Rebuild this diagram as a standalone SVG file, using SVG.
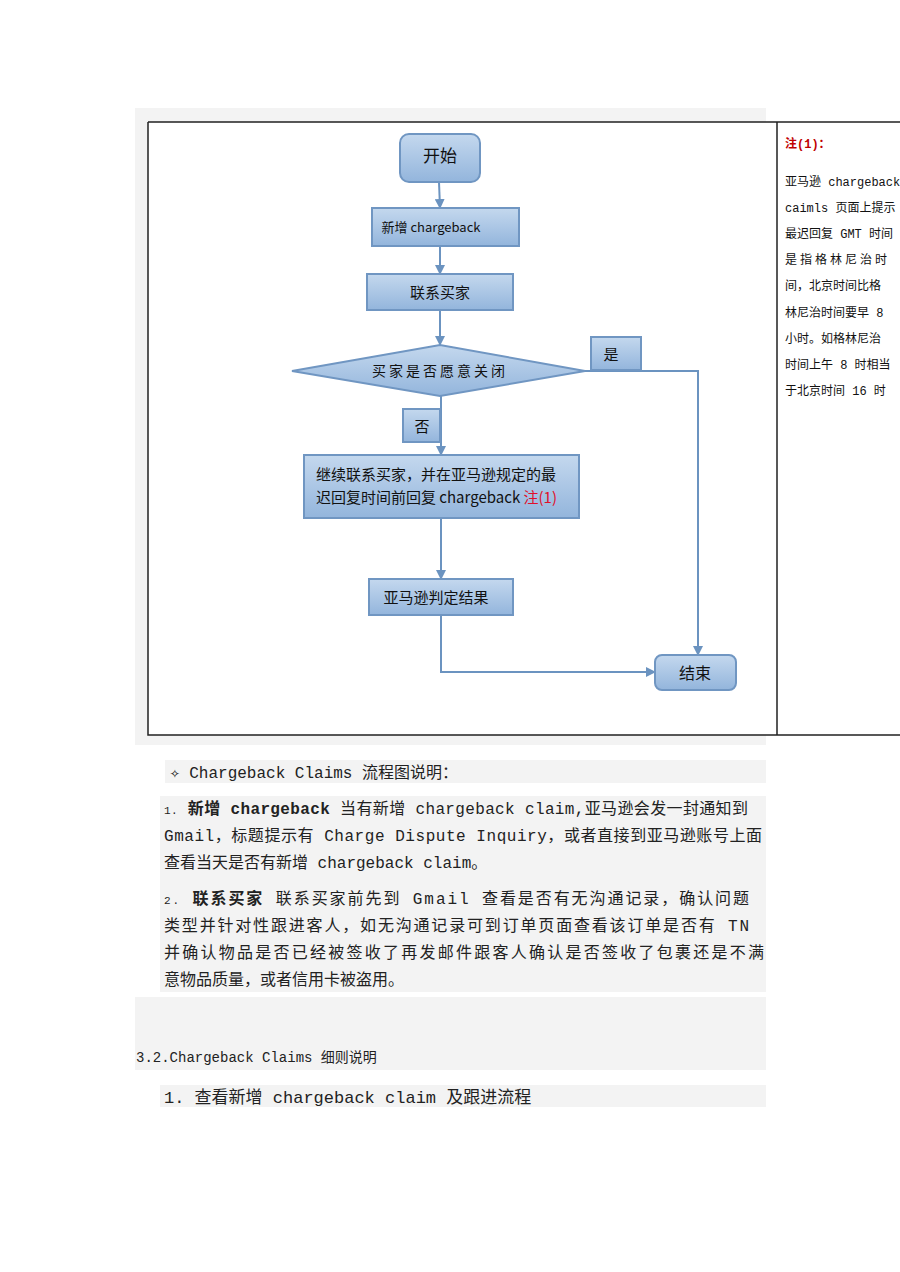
<svg xmlns="http://www.w3.org/2000/svg" width="900" height="1272" viewBox="0 0 900 1272">
<defs>
<linearGradient id="g" x1="0" y1="0" x2="0" y2="1"><stop offset="0" stop-color="#c4d8ee"/><stop offset="1" stop-color="#93b5dc"/></linearGradient>
<marker id="a" markerWidth="10" markerHeight="10" refX="9" refY="5" orient="auto" markerUnits="userSpaceOnUse"><path d="M0,0 L10,5 L0,10 z" fill="#6b93c0"/></marker>
</defs>
<style>
.n{fill:url(#g);stroke:#7096c2;stroke-width:2}
.t{font-family:"Noto Sans CJK SC","Noto Sans",sans-serif;fill:#111;text-anchor:middle}
.c{fill:none;stroke:#6b93c0;stroke-width:2;marker-end:url(#a)}
.b{font-family:"Liberation Mono","Noto Sans CJK SC",monospace;font-size:16px;fill:#222}
.r{font-family:"Liberation Mono","Noto Sans CJK SC",monospace;font-size:12px;fill:#111}
.bg{fill:#f3f3f3}
</style>
<rect width="900" height="1272" fill="#fff"/>
<rect class="bg" x="135" y="108" width="631" height="637"/>
<rect x="148" y="122" width="752" height="613" fill="#fff"/>
<path d="M148,122 H900 M148,122 V735 H900 M777,122 V735" stroke="#222" stroke-width="1.5" fill="none"/>
<g id="connectors">
<path class="c" d="M439,182 L440,208"/>
<path class="c" d="M440,246 L440,274"/>
<path class="c" d="M440,310 L440,345"/>
<path class="c" d="M441,396 L441,455"/>
<path class="c" d="M585,371 H698 V655"/>
<path class="c" d="M441,518 V579"/>
<path class="c" d="M441,615 V672 H655"/>
</g>
<g id="start"><rect class="n" x="400" y="134" width="80" height="48" rx="9"/><text class="t" x="440" y="162" font-size="17">开始</text></g>
<g id="add"><rect class="n" x="372" y="208" width="147" height="38"/><text class="t" x="431" y="232" font-size="13">新增 chargeback</text></g>
<g id="contact"><rect class="n" x="367" y="274" width="146" height="36"/><text class="t" x="440" y="298" font-size="15">联系买家</text></g>
<g id="decision"><polygon class="n" points="292,371 440,345 585,371 440,396"/><text class="t" x="440" y="376" font-size="14" letter-spacing="3">买家是否愿意关闭</text></g>
<g id="yes"><rect class="n" x="591" y="337" width="50" height="33"/><text class="t" x="611" y="360" font-size="15">是</text></g>
<g id="no"><rect class="n" x="403" y="409" width="37" height="33"/><text class="t" x="422" y="432" font-size="15">否</text></g>
<g id="cont"><rect class="n" x="304" y="455" width="275" height="63"/>
<text class="t" x="316" y="480" font-size="15" style="text-anchor:start">继续联系买家，并在亚马逊规定的最</text>
<text class="t" x="316" y="503" font-size="15" style="text-anchor:start">迟回复时间前回复 chargeback <tspan fill="#e0102a">注(1)</tspan></text></g>
<g id="judge"><rect class="n" x="369" y="579" width="144" height="36"/><text class="t" x="436" y="603" font-size="15">亚马逊判定结果</text></g>
<g id="end"><rect class="n" x="655" y="655" width="81" height="35" rx="7"/><text class="t" x="695" y="679" font-size="16">结束</text></g>
<g id="note">
<text class="r" x="785" y="148" style="fill:#c00000;font-weight:bold">注(1)：</text>
<text class="r" x="785" y="186">亚马逊 chargeback</text>
<text class="r" x="785" y="212">caimls 页面上提示</text>
<text class="r" x="785" y="238">最迟回复 GMT 时间</text>
<text class="r" x="785" y="264" letter-spacing="3">是指格林尼治时</text>
<text class="r" x="785" y="290">间，北京时间比格</text>
<text class="r" x="785" y="317">林尼治时间要早 8</text>
<text class="r" x="785" y="343">小时。如格林尼治</text>
<text class="r" x="785" y="369">时间上午 8 时相当</text>
<text class="r" x="785" y="395">于北京时间 16 时</text>
</g>
<rect class="bg" x="165" y="760" width="601" height="23"/>
<text class="b" x="170" y="778">✧  Chargeback Claims 流程图说明：</text>
<rect class="bg" x="160" y="796" width="606" height="196"/>
<text class="b" x="164" y="814" textLength="584" lengthAdjust="spacing"><tspan font-size="11">1.</tspan>   <tspan font-weight="bold">新增 chargeback</tspan>  当有新增 chargeback claim,亚马逊会发一封通知到</text>
<text class="b" x="164" y="841" textLength="598" lengthAdjust="spacing">Gmail，标题提示有 Charge Dispute Inquiry，或者直接到亚马逊账号上面</text>
<text class="b" x="164" y="868">查看当天是否有新增 chargeback claim。</text>
<text class="b" x="164" y="904" textLength="585" lengthAdjust="spacing"><tspan font-size="11">2.</tspan>   <tspan font-weight="bold">联系买家</tspan>      联系买家前先到 Gmail 查看是否有无沟通记录，确认问题</text>
<text class="b" x="164" y="931" textLength="585" lengthAdjust="spacing">类型并针对性跟进客人，如无沟通记录可到订单页面查看该订单是否有 TN</text>
<text class="b" x="164" y="958" textLength="600" lengthAdjust="spacing">并确认物品是否已经被签收了再发邮件跟客人确认是否签收了包裹还是不满</text>
<text class="b" x="164" y="985">意物品质量，或者信用卡被盗用。</text>
<rect class="bg" x="135" y="997" width="631" height="73"/>
<text class="b" x="136" y="1062" style="font-size:14px">3.2.Chargeback Claims 细则说明</text>
<rect class="bg" x="160" y="1085" width="606" height="22"/>
<text class="b" x="164" y="1103" style="font-size:17px">1.  查看新增 chargeback claim 及跟进流程</text>
</svg>
